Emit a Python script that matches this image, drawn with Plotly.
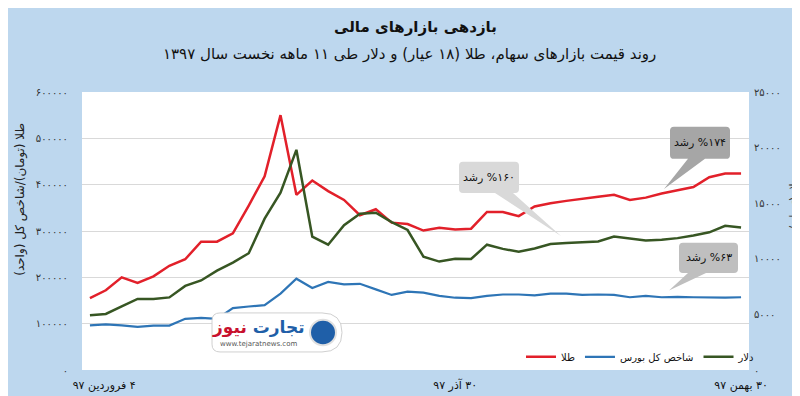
import plotly.graph_objects as go

# ---------------- data ----------------
gold = [155000, 172000, 200000, 188000, 202000, 225000, 239000, 277000, 277000, 295000,
        355000, 418000, 550000, 378000, 409000, 386000, 367000, 334000, 347000, 318000,
        315000, 301000, 307000, 303000, 305000, 341000, 341000, 332000, 353000, 360000,
        365000, 370000, 374000, 378000, 367000, 372000, 381000, 388000, 395000, 416000,
        424000, 424000]
bourse = [96400, 98600, 96400, 93000, 95800, 95800, 110500, 112600, 110500, 133700,
          137000, 140000, 165000, 197000, 177000, 190000, 185000, 186000, 174000, 162000,
          169000, 167000, 160000, 156000, 155000, 160000, 163000, 163000, 161000, 165000,
          165000, 162000, 163000, 162000, 157000, 160000, 157000, 158000, 157000, 156000,
          156000, 157000]
dollar = [4930, 5040, 5720, 6390, 6390, 6530, 7560, 8050, 8930, 9660,
          10500, 13610, 15940, 19800, 12000, 11270, 13020, 14050, 14140, 13300,
          12590, 10200, 9750, 10010, 9980, 11270, 10890, 10630, 10920, 11330,
          11420, 11470, 11560, 12000, 11800, 11650, 11710, 11860, 12090, 12380,
          12960, 12820]
idx = list(range(len(gold)))

series_names = ["طلا", "شاخص کل بورس", "دلار"]
x_tick_pos = [0.9, 23.0, 41.0]
x_tick_text = ["\u200f۴ فروردین ۹۷", "\u200f۳۰ آذر ۹۷", "\u200f۳۰ بهمن ۹۷"]
y1_ticks = [0, 100000, 200000, 300000, 400000, 500000, 600000]
y1_text = ["۰", "۱۰۰۰۰۰", "۲۰۰۰۰۰", "۳۰۰۰۰۰", "۴۰۰۰۰۰", "۵۰۰۰۰۰", "۶۰۰۰۰۰"]
y2_ticks = [0, 5000, 10000, 15000, 20000, 25000]
y2_text = ["۰", "۵۰۰۰", "۱۰۰۰۰", "۱۵۰۰۰", "۲۰۰۰۰", "۲۵۰۰۰"]
title1 = "بازدهی بازارهای مالی"
title2 = "روند قیمت بازارهای سهام، طلا (۱۸ عیار) و دلار طی ۱۱ ماهه نخست سال ۱۳۹۷"
y1_title = "طلا (تومان)/شاخص کل (واحد)"
y2_title = "دلار (تومان)"
callout_text = ["رشد \u200e%۱۷۴", "رشد \u200e%۱۶۰", "رشد \u200e%۶۳"]

# ---------------- layout geometry ----------------
W, H = 800, 396
L, R, T, B = 74, 59, 83.5, 27.5
PW, PH = W - L - R, H - T - B
FONT = "DejaVu Sans"

def px(x):
    return (x - L) / PW

def py(y):
    return (H - B - y) / PH

fig = go.Figure()
fig.add_trace(go.Scatter(x=idx, y=gold, name=series_names[0], mode="lines",
                         line=dict(color="#E2202A", width=2.5)))
fig.add_trace(go.Scatter(x=idx, y=bourse, name=series_names[1], mode="lines",
                         line=dict(color="#2E75B6", width=2.2)))
fig.add_trace(go.Scatter(x=idx, y=dollar, name=series_names[2], mode="lines",
                         line=dict(color="#375623", width=2.5), yaxis="y2"))

shapes = []
annotations = []

def callout(x0, y0, x1, y1, bx0, bx1, tx, ty, color, text):
    r = 4
    d = (f"M {px(x0+r)} {py(y0)} L {px(x1-r)} {py(y0)} Q {px(x1)} {py(y0)} {px(x1)} {py(y0+r)} "
         f"L {px(x1)} {py(y1-r)} Q {px(x1)} {py(y1)} {px(x1-r)} {py(y1)} "
         f"L {px(bx1)} {py(y1)} L {px(tx)} {py(ty)} L {px(bx0)} {py(y1)} "
         f"L {px(x0+r)} {py(y1)} Q {px(x0)} {py(y1)} {px(x0)} {py(y1-r)} "
         f"L {px(x0)} {py(y0+r)} Q {px(x0)} {py(y0)} {px(x0+r)} {py(y0)} Z")
    shapes.append(dict(type="path", xref="paper", yref="paper", path=d,
                       fillcolor=color, line=dict(width=0), layer="above"))
    annotations.append(dict(xref="paper", yref="paper", x=px((x0 + x1) / 2), y=py((y0 + y1) / 2),
                            text=text, showarrow=False, xanchor="center", yanchor="middle",
                            font=dict(family=FONT, size=11, color="#111")))

callout(662, 119, 722, 152, 680, 697, 656, 183, "#A6A6A6", callout_text[0])
callout(451, 155, 511, 187, 487, 505, 553, 231, "#D9D9D9", callout_text[1])
callout(671, 238, 730, 269, 680, 698, 661, 287, "#BFBFBF", callout_text[2])

# watermark logo
shapes.append(dict(type="path", xref="paper", yref="paper",
                   path=(f"M {px(222)} {py(310)} L {px(314)} {py(310)} "
                         f"Q {px(334)} {py(310)} {px(334)} {py(330)} "
                         f"Q {px(334)} {py(350)} {px(314)} {py(350)} "
                         f"L {px(212)} {py(350)} Q {px(204)} {py(350)} {px(204)} {py(342)} "
                         f"L {px(204)} {py(318)} Q {px(204)} {py(310)} {px(212)} {py(310)} Z"),
                   fillcolor="white", line=dict(color="#D0D0D0", width=1), layer="above"))
shapes.append(dict(type="circle", xref="paper", yref="paper", x0=px(302), x1=px(328),
                   y0=py(343), y1=py(317), fillcolor="#1F5FA8", line=dict(color="#E0E0E0", width=2),
                   layer="above"))
annotations.append(dict(xref="paper", yref="paper", x=px(250), y=py(325),
                        text="<b><span style='color:#1F5FA8'>تجارت</span> <span style='color:#C8102E'>نیوز</span></b>",
                        showarrow=False, xanchor="center", yanchor="middle",
                        font=dict(family=FONT, size=17)))
annotations.append(dict(xref="paper", yref="paper", x=px(250), y=py(342),
                        text="www.tejaratnews.com", showarrow=False, xanchor="center", yanchor="middle",
                        font=dict(family=FONT, size=7, color="#555")))

# titles
annotations.append(dict(xref="paper", yref="paper", x=0.5, xanchor="center", y=py(17), yanchor="middle",
                        text="<b>" + title1 + "</b>", showarrow=False,
                        font=dict(family=FONT, size=15, color="#111")))
annotations.append(dict(xref="paper", yref="paper", x=px(401), xanchor="center", y=py(45), yanchor="middle",
                        text=title2, showarrow=False,
                        font=dict(family=FONT, size=15, color="#111")))
annotations.append(dict(xref="paper", yref="paper", x=px(13), y=py(194), text=y1_title,
                        textangle=-90, showarrow=False, xanchor="center", yanchor="middle",
                        font=dict(family=FONT, size=12, color="#222")))
annotations.append(dict(xref="paper", yref="paper", x=px(786), y=py(198), text=y2_title,
                        textangle=-90, showarrow=False, xanchor="center", yanchor="middle",
                        font=dict(family=FONT, size=10, color="#222")))

fig.update_layout(
    width=W, height=H,
    margin=dict(l=L, r=R, t=T, b=B, pad=0),
    paper_bgcolor="#BDD7EE",
    plot_bgcolor="white",
    font=dict(family=FONT, size=9, color="#222"),
    showlegend=True,
    legend=dict(orientation="h", x=px(513), xanchor="left", y=py(355), yanchor="middle",
                bgcolor="rgba(0,0,0,0)", font=dict(family=FONT, size=10, color="#111"),
                traceorder="normal"),
    xaxis=dict(range=[-0.5, len(idx) - 0.5], tickvals=x_tick_pos, ticktext=x_tick_text,
               showgrid=False, zeroline=False, showline=False, ticks="outside", ticklen=5,
               tickcolor="rgba(0,0,0,0)", tickfont=dict(family=FONT, size=11, color="#111"),
               fixedrange=True),
    yaxis=dict(range=[0, 600000], tickvals=y1_ticks, ticktext=y1_text, showgrid=True,
               gridcolor="#D9D9D9", gridwidth=1, zeroline=False, showline=False,
               ticks="outside", ticklen=11, tickcolor="rgba(0,0,0,0)",
               tickfont=dict(family=FONT, size=10, color="#333")),
    yaxis2=dict(range=[0, 25000], tickvals=y2_ticks, ticktext=y2_text, overlaying="y", side="right",
                showgrid=False, zeroline=False, showline=False, ticks="outside", ticklen=2,
                tickcolor="rgba(0,0,0,0)", tickfont=dict(family=FONT, size=10, color="#333")),
    shapes=shapes,
    annotations=annotations,
)

fig.write_html("out.html")
